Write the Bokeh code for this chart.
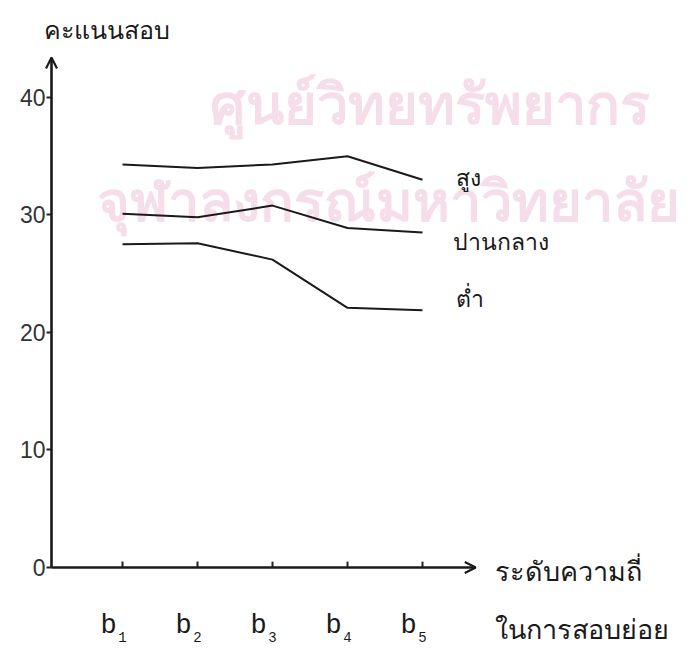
from bokeh.plotting import figure
from bokeh.models import Range1d, LinearAxis, FixedTicker, Arrow, OpenHead
from bokeh.core.properties import value
from bokeh.embed import file_html
from bokeh.resources import INLINE

# ---- data ----
categories = ["b", "b", "b", "b", "b"]
subscripts = ["1", "2", "3", "4", "5"]
x_pos = [1, 2, 3, 4, 5]
high = [34.3, 34.0, 34.3, 35.0, 33.0]
mid = [30.1, 29.8, 30.8, 28.9, 28.5]
low = [27.5, 27.6, 26.2, 22.1, 21.9]
series_names = ["สูง", "ปานกลาง", "ต่ำ"]
y_ticks = [0, 10, 20, 30, 40]
y_title = "คะแนนสอบ"
x_title = ["ระดับความถี่", "ในการสอบย่อย"]
watermark = ["ศูนย์วิทยทรัพยากร", "จุฬาลงกรณ์มหาวิทยาลัย"]

X0 = 0.0533      # y-axis position
X_TIP = 5.71     # x-axis arrow tip
Y_TIP = 43.4     # y-axis arrow tip

p = figure(width=695, height=648, output_backend="svg", toolbar_location=None,
           x_range=Range1d(-0.6267, 8.64), y_range=Range1d(-6.894, 48.255),
           min_border=0, min_border_left=0, min_border_right=0,
           min_border_top=0, min_border_bottom=0)
p.axis.visible = False
p.grid.visible = False
p.outline_line_color = None
p.background_fill_color = "white"
p.border_fill_color = "white"

thai_font = value("Noto Sans")

# watermark
p.text(x=[5.1, 4.55], y=[39.6, 31.4], text=watermark, text_font=thai_font,
       text_font_size="56px", text_font_style="bold", text_align="center",
       text_baseline="middle", text_color="#f2d6e3", text_alpha=0.8)

# y axis
yaxis = LinearAxis(fixed_location=X0, ticker=FixedTicker(ticks=y_ticks),
                   axis_line_color=None, major_tick_out=5, major_tick_in=0,
                   minor_tick_line_color=None, major_tick_line_width=2,
                   major_tick_line_color="#222222", major_label_standoff=1,
                   major_label_text_font="Liberation Sans",
                   major_label_text_font_size="23px",
                   major_label_text_color="#333333")
p.add_layout(yaxis, "left")

# x ticks (pointing up from the axis)
p.segment(x0=x_pos, y0=[0] * 5, x1=x_pos, y1=[0.5] * 5,
          line_color="#222222", line_width=2)

p.add_layout(Arrow(end=OpenHead(size=11, line_width=2.2, line_color="#1a1a1a"),
                   x_start=X0, y_start=0, x_end=X0, y_end=Y_TIP,
                   line_width=2.6, line_color="#1a1a1a"))
p.add_layout(Arrow(end=OpenHead(size=11, line_width=2.2, line_color="#1a1a1a"),
                   x_start=X0, y_start=0, x_end=X_TIP, y_end=0,
                   line_width=2.6, line_color="#1a1a1a"))

# series
for ys in (high, mid, low):
    p.line(x_pos, ys, line_color="#1a1a1a", line_width=2)

# series labels
p.text(x=[5.44, 5.41, 5.44], y=[33.2, 27.8, 22.9], text=series_names,
       text_font=thai_font, text_font_size="23px", text_align="left",
       text_baseline="middle", text_color="#1a1a1a")

# axis titles
p.text(x=[-0.053], y=[45.87], text=[y_title], text_font=thai_font,
       text_font_size="25px", text_align="left", text_baseline="middle",
       text_color="#1a1a1a")
p.text(x=[5.97, 5.97], y=[-0.26, -5.19], text=x_title, text_font=thai_font,
       text_font_size="27px", text_align="left", text_baseline="middle",
       text_color="#1a1a1a")

# category labels (b with subscripts)
p.text(x=x_pos, y=[-4.95] * 5, text=categories, text_font=value("Liberation Mono"),
       text_font_size="27px", text_align="center", text_baseline="middle",
       text_color="#1a1a1a", x_offset=-14)
p.text(x=x_pos, y=[-5.9] * 5, text=subscripts, text_font=value("Liberation Mono"),
       text_font_size="14px", text_align="center", text_baseline="middle",
       text_color="#1a1a1a", x_offset=0)

open("out.html", "w").write(file_html(p, INLINE))
